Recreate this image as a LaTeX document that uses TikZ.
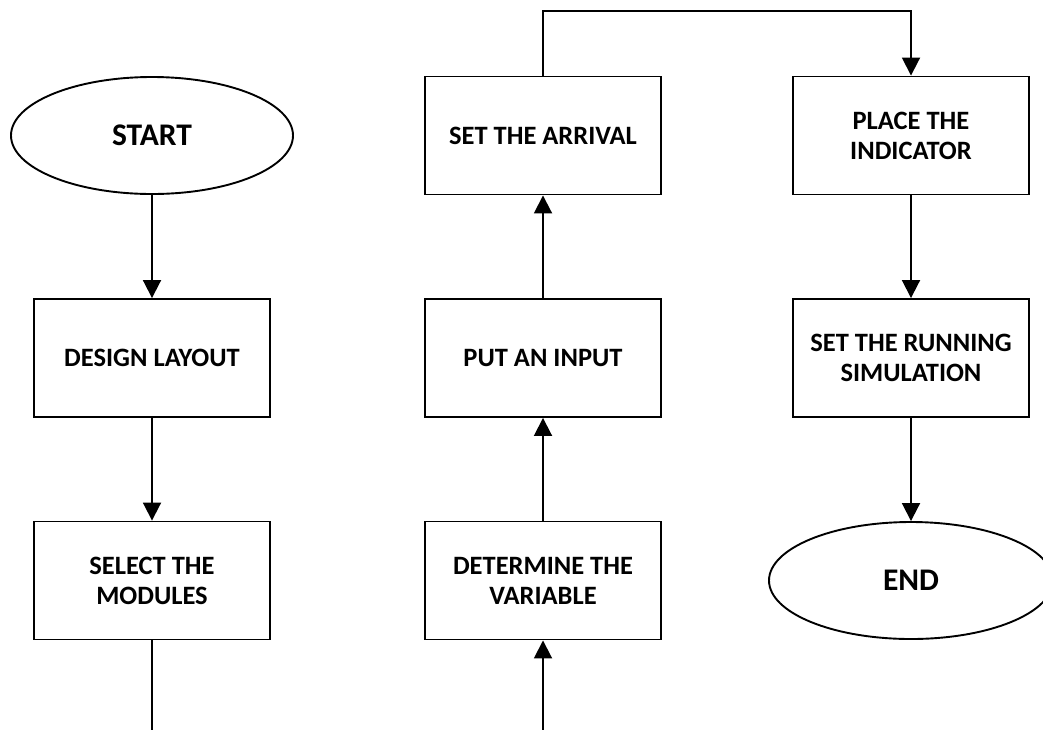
\documentclass[tikz,border=0pt]{standalone}
\usepackage{fontspec}
\setmainfont{Carlito}
\usetikzlibrary{shapes.geometric,arrows.meta}

\tikzset{
  stepbox/.style={draw, line width=1.9pt, rectangle, minimum width=236pt,
    minimum height=118pt, inner sep=0pt, align=center,
    font=\bfseries\fontsize{26.5}{30}\selectfont},
  terminal/.style={draw, line width=1.9pt, ellipse, minimum height=117pt,
    inner sep=0pt, font=\bfseries\fontsize{31.5}{36}\selectfont},
  flow/.style={line width=1.9pt, -{Triangle[length=18pt,width=18pt]}},
}

\begin{document}
\begin{tikzpicture}[x=1pt, y=-1pt]
  \useasboundingbox (0,0) rectangle (1043,729);
  \fill[white] (0,0) rectangle (1043,729);
  \clip (0,0) rectangle (1043,729);

  % first column
  \node[terminal, minimum width=282pt] (start) at (152,135.5) {START};
  \node[stepbox] (design) at (152,358) {DESIGN LAYOUT};
  \node[stepbox] (select) at (152,580.5) {SELECT THE\\MODULES};

  % second column
  \node[stepbox] (determine) at (543,580.5) {DETERMINE THE\\VARIABLE};
  \node[stepbox] (input) at (543,358) {PUT AN INPUT};
  \node[stepbox] (arrival) at (543,135.5) {SET THE ARRIVAL};

  % third column
  \node[stepbox] (place) at (911,135.5) {PLACE THE\\INDICATOR};
  \node[stepbox] (running) at (911,358) {SET THE RUNNING\\SIMULATION};
  \node[terminal, minimum width=284pt] (end) at (911,580.5) {END};

  % bend points of the long connectors
  \coordinate (topbend) at (727,11);
  \coordinate (botbend) at (347,748);

  \draw[flow] (start) -- (design);
  \draw[flow] (design) -- (select);
  \draw[flow] (select.south) |- (botbend) -| (determine.south);
  \draw[flow] (determine) -- (input);
  \draw[flow] (input) -- (arrival);
  \draw[flow] (arrival.north) |- (topbend) -| (place.north);
  \draw[flow] (place) -- (running);
  \draw[flow] (running) -- (end);
\end{tikzpicture}
\end{document}
